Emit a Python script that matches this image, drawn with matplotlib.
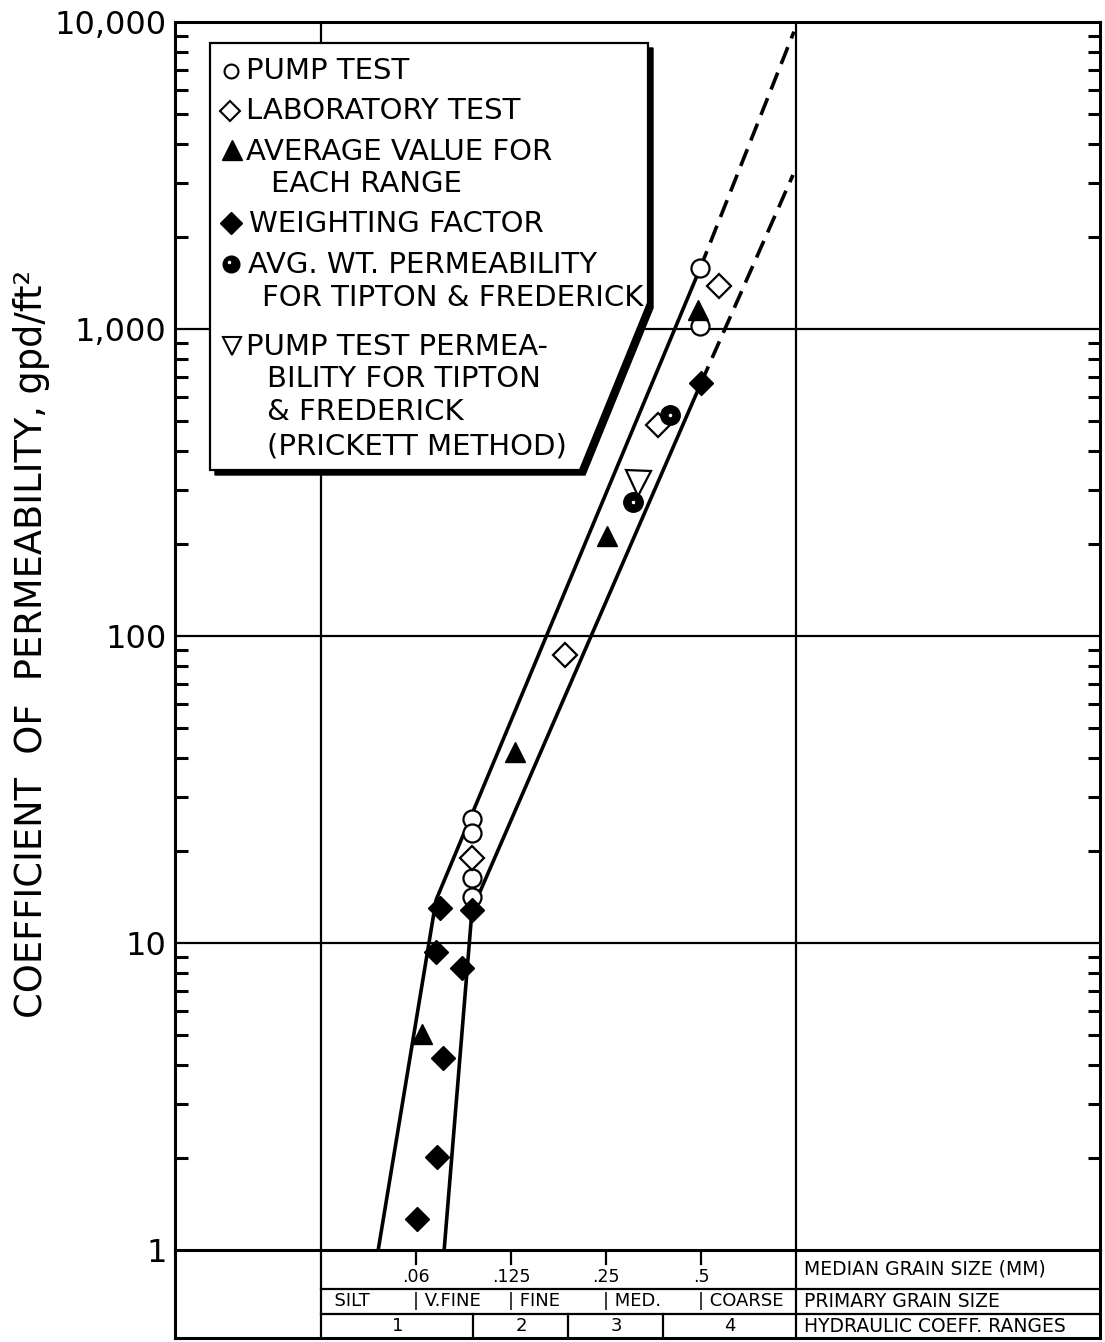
"""
Permeability vs median grain size, recreated from a scanned report figure.
Log-log chart with a grain-size table under the x axis and a boxed legend.
"""
import numpy as np
import matplotlib
matplotlib.use("Agg")
import matplotlib.pyplot as plt
from matplotlib.patches import Polygon
from matplotlib.ticker import LogLocator, NullLocator, FixedLocator, FixedFormatter
import matplotlib.transforms as mtransforms

plt.rcParams["font.family"] = ["DejaVu Sans"]

W, H = 1105, 1342          # output size in px (dpi 100)
INK = "black"

# ---- data: median grain size (mm) -> coefficient of permeability (gpd/ft2)
pump_d = [0.497, 0.497, 0.094, 0.094, 0.094, 0.094]
pump_k = [1580, 1023, 25.3, 22.8, 16.3, 14.1]
lab_d = [0.570, 0.365, 0.185, 0.094]
lab_k = [1380, 487, 86.7, 18.9]
avg_d = [0.489, 0.252, 0.1286, 0.0653]
avg_k = [1153, 212, 41.9, 5.05]
wt_d = [0.500, 0.0746, 0.094, 0.0725, 0.0873, 0.0762, 0.0730, 0.0630]
wt_k = [667, 13.0, 12.8, 9.35, 8.29, 4.22, 2.01, 1.26]
tf_d = [0.398, 0.304]
tf_k = [525, 273]
prick_d = [0.316]
prick_k = [315]

# envelope lines (solid part + dashed extrapolation)
upper_d = [0.0474, 0.0723, 0.497]
upper_k = [1.0, 13.8, 1580]
upper_ext_d = [0.497, 0.985]
upper_ext_k = [1580, 9300]
lower_d = [0.0767, 0.094, 0.500]
lower_k = [1.0, 12.8, 667]
lower_ext_d = [0.500, 0.978]
lower_ext_k = [667, 3175]

# axes / table
y_ticks = [1, 10, 100, 1000, 10000]
y_labels = ["1", "10", "100", "1,000", "10,000"]
grid_sizes = [1 / 32, 1.0]
size_ticks = [0.0625, 0.125, 0.25, 0.5]
size_labels = [".06", ".125", ".25", ".5"]
class_bounds = [0.0625, 0.125, 0.25, 0.5]
class_names = ["SILT", "V.FINE", "FINE", "MED.", "COARSE"]
range_bounds = [1 / 32, 0.095, 0.19, 0.38, 1.0]
range_names = ["1", "2", "3", "4"]
row_titles = ["MEDIAN GRAIN SIZE (MM)", "PRIMARY GRAIN SIZE", "HYDRAULIC COEFF. RANGES"]

XLIM = (0.01076, 9.19)

fig = plt.figure(figsize=(W / 100, H / 100), dpi=100)

# ---------------- grain-size table under the chart (drawn first, main axes on top)
tab = fig.add_axes([175 / W, (H - 1338) / H, 925 / W, 88 / H])
tab.set_facecolor("none")
tab.set_xscale("log", base=2)
tab.set_xlim(*XLIM)
tab.set_ylim(0, 1)
tab.set_xticks([])
tab.set_yticks([])
tab.xaxis.set_minor_locator(NullLocator())
tab.spines["top"].set_visible(False)
for s in ["left", "right", "bottom"]:
    tab.spines[s].set_linewidth(2.2)

r1, r2 = 0.557, 0.273   # row borders (axes fraction)
for d in grid_sizes:
    tab.axvline(d, color=INK, lw=1.6)
tab.plot([grid_sizes[0], XLIM[1]], [r1, r1], color=INK, lw=1.6)
tab.plot([grid_sizes[0], XLIM[1]], [r2, r2], color=INK, lw=1.6)
for d in range_bounds[1:-1]:
    tab.plot([d, d], [0, r2], color=INK, lw=1.6)

# row 1: median grain size ticks
for d, lab in zip(size_ticks, size_labels):
    tab.plot([d, d], [1, 0.84], color=INK, lw=1.6)
    tab.text(d, 0.69, lab, ha="center", va="center", fontsize=12.5)

# row 2: primary grain size classes
off = mtransforms.offset_copy(tab.transData, fig=fig, x=-3, y=0, units="dots")
tab.text(grid_sizes[0], 0.415, "  " + class_names[0], ha="left", va="center",
         fontsize=13, transform=mtransforms.offset_copy(tab.transData, fig=fig, x=2, units="dots"))
for d, name in zip(class_bounds, class_names[1:]):
    tab.text(d, 0.415, "| " + name, ha="left", va="center", fontsize=13, transform=off)

# row 3: hydraulic coefficient ranges
for lo, hi, name in zip(range_bounds[:-1], range_bounds[1:], range_names):
    tab.text(np.sqrt(lo * hi), 0.136, name, ha="center", va="center", fontsize=13)

for yy, title in zip([0.78, 0.415, 0.136], row_titles):
    tab.text(1.0, yy, title, ha="left", va="center", fontsize=13.5,
             transform=mtransforms.offset_copy(tab.transData, fig=fig, x=8, units="dots"))

# ---------------- main chart
ax = fig.add_axes([175 / W, (H - 1250) / H, 925 / W, 1228 / H])
ax.set_facecolor("none")
ax.set_xscale("log", base=2)
ax.set_yscale("log")
ax.set_xlim(*XLIM)
ax.set_ylim(1, 10000)
ax.xaxis.set_major_locator(NullLocator())
ax.xaxis.set_minor_locator(NullLocator())
ax.yaxis.set_major_locator(FixedLocator(y_ticks))
ax.yaxis.set_major_formatter(FixedFormatter(y_labels))
ax.yaxis.set_minor_locator(LogLocator(base=10, subs=np.arange(2, 10)))
ax.tick_params(axis="y", which="major", length=0, pad=6, labelsize=23)
ax.tick_params(axis="y", which="minor", direction="in", length=9, width=2.2,
               left=True, right=True)
for s in ax.spines.values():
    s.set_linewidth(2.2)

for k in y_ticks[1:-1]:
    ax.axhline(k, color=INK, lw=1.6, zorder=1)
for d in grid_sizes:
    ax.axvline(d, color=INK, lw=1.6, zorder=1)

ax.plot(upper_d, upper_k, color=INK, lw=2.6, zorder=2)
ax.plot(lower_d, lower_k, color=INK, lw=2.6, zorder=2)
ax.plot(upper_ext_d, upper_ext_k, color=INK, lw=2.6, ls=(0, (5, 2.6)), zorder=2)
ax.plot(lower_ext_d, lower_ext_k, color=INK, lw=2.6, ls=(0, (5, 2.6)), zorder=2)

ax.plot(pump_d, pump_k, "o", ms=13, mfc="white", mec=INK, mew=1.6, zorder=3)
ax.plot(lab_d, lab_k, "D", ms=12, mfc="white", mec=INK, mew=1.6, zorder=3)
ax.plot(avg_d, avg_k, "^", ms=15, color=INK, zorder=3)
ax.plot(wt_d, wt_k, "D", ms=12, color=INK, zorder=3)
ax.plot(tf_d, tf_k, "o", ms=14, color=INK, zorder=3)
ax.plot(tf_d, tf_k, ".", ms=3, color="white", zorder=4)
ax.plot(prick_d, prick_k, "v", ms=18, mfc="white", mec=INK, mew=1.6, zorder=3)

fig.text(32 / W, 1 - 644 / H, "COEFFICIENT  OF  PERMEABILITY, gpd/ft²",
         rotation=90, ha="center", va="center", fontsize=26.5)

# ---------------- legend box (drawn in figure pixels)
lg = fig.add_axes([0, 0, 1, 1])
lg.set_xlim(0, W)
lg.set_ylim(H, 0)
lg.axis("off")
box = np.array([[210, 43], [648, 43], [648, 303], [580, 470], [210, 470]])
lg.add_patch(Polygon(box + [5, 5], closed=True, fc=INK, ec=INK, lw=1))
lg.add_patch(Polygon(box, closed=True, fc="white", ec=INK, lw=1.6))

lg.plot(231, 71, "o", ms=10, mfc="white", mec=INK, mew=1.5)
lg.plot(230, 111, "D", ms=10, mfc="white", mec=INK, mew=1.5)
lg.plot(232, 150, "^", ms=15, color=INK)
lg.plot(231, 223, "D", ms=11, color=INK)
lg.plot(231, 264, "o", ms=12, color=INK)
lg.plot(229, 262, ".", ms=3, color="white")
lg.plot(232, 346, "v", ms=13, mfc="white", mec=INK, mew=1.5)

legend_lines = [
    ("PUMP TEST", 246, 71),
    ("LABORATORY TEST", 246, 111),
    ("AVERAGE VALUE FOR", 246, 152),
    ("EACH RANGE", 271, 184),
    ("WEIGHTING FACTOR", 249, 224),
    ("AVG. WT. PERMEABILITY", 248, 265),
    ("FOR TIPTON & FREDERICK", 262, 298),
    ("PUMP TEST PERMEA-", 246, 347),
    ("BILITY FOR TIPTON", 267, 379),
    ("& FREDERICK", 267, 412),
    ("(PRICKETT METHOD)", 267, 447),
]
for txt, x, y in legend_lines:
    lg.text(x, y, txt, ha="left", va="center", fontsize=21)

fig.savefig("out.png", dpi=100)
